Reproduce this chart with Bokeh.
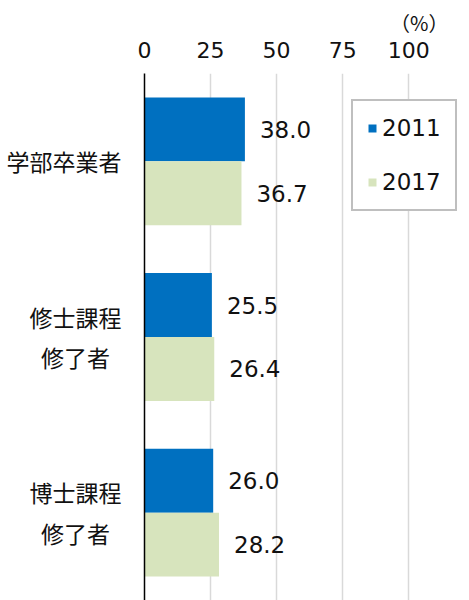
from bokeh.plotting import figure
from bokeh.models import (ColumnDataSource, FactorRange, Range1d, FixedTicker,
                          Legend, LegendItem)
from bokeh.transform import dodge
from bokeh.core.properties import value
from bokeh.embed import file_html
from bokeh.resources import INLINE

categories = ["学部卒業者", "修士課程\n修了者\u2002", "博士課程\n修了者\u2002"]
series_names = ["2011", "2017"]
values_2011 = [38.0, 25.5, 26.0]
values_2017 = [36.7, 26.4, 28.2]
x_ticks = [0, 25, 50, 75, 100]
unit_label = "（%）"

CJK = "Noto Sans CJK JP"
NUM = "DejaVu Sans"
BLUE = "#0070C0"
GREEN = "#D7E4BD"
TXT = "#111111"

src = ColumnDataSource(dict(
    cat=categories,
    v2011=values_2011,
    v2017=values_2017,
    t2011=[f"{v:.1f}" for v in values_2011],
    t2017=[f"{v:.1f}" for v in values_2017],
))

p = figure(width=469, height=600, output_backend="svg", toolbar_location=None,
           y_range=FactorRange(factors=list(reversed(categories))),
           x_range=Range1d(0, 123), x_axis_location="above",
           min_border_left=144, min_border_top=73, min_border_right=0,
           min_border_bottom=0)
p.outline_line_color = None
p.background_fill_color = "white"
p.border_fill_color = "white"

p.title.text = unit_label
p.title.align = "right"
p.title.offset = 21
p.title.standoff = 3
p.title.text_font = CJK
p.title.text_font_size = "20px"
p.title.text_font_style = "normal"
p.title.text_color = TXT

bh = 0.364
off = 0.182
r1 = p.hbar(y=dodge("cat", off, range=p.y_range), right="v2011", left=0,
            height=bh, source=src, fill_color=BLUE, line_color=None)
r2 = p.hbar(y=dodge("cat", -off, range=p.y_range), right="v2017", left=0,
            height=bh, source=src, fill_color=GREEN, line_color=None)

p.text(x="v2011", y=dodge("cat", off, range=p.y_range), text="t2011", source=src,
       x_offset=15, text_baseline="middle", text_align="left",
       text_font=value(NUM), text_font_size="23px", text_color=TXT)
p.text(x="v2017", y=dodge("cat", -off, range=p.y_range), text="t2017", source=src,
       x_offset=15, text_baseline="middle", text_align="left",
       text_font=value(NUM), text_font_size="23px", text_color=TXT)

# x axis (top)
xa = p.xaxis[0]
xa.ticker = FixedTicker(ticks=x_ticks)
xa.axis_line_color = None
xa.major_tick_line_color = None
xa.minor_tick_line_color = None
xa.major_label_text_font = NUM
xa.major_label_text_font_size = "22px"
xa.major_label_text_color = TXT
xa.major_label_standoff = 10

# y axis
ya = p.yaxis[0]
ya.axis_line_color = "black"
ya.axis_line_width = 1.5
ya.major_tick_line_color = None
ya.minor_tick_line_color = None
ya.major_label_text_font = CJK
ya.major_label_text_font_size = "23px"
ya.major_label_text_color = TXT
ya.major_label_standoff = 17

p.xgrid.ticker = FixedTicker(ticks=x_ticks[1:])
p.xgrid.grid_line_color = "#D9D9D9"
p.xgrid.grid_line_width = 1.5
p.ygrid.grid_line_color = None

legend = Legend(items=[LegendItem(label=series_names[0], renderers=[r1]),
                       LegendItem(label=series_names[1], renderers=[r2])],
                location=(207, 389), margin=0, padding=14, spacing=28,
                glyph_width=10, glyph_height=10, label_height=26,
                label_width=50, label_standoff=5, label_text_font=NUM,
                label_text_font_size="23px", label_text_color=TXT,
                border_line_color="#7F7F7F", border_line_width=2,
                background_fill_color="white", background_fill_alpha=1.0)
p.add_layout(legend, "center")

open("out.html", "w").write(file_html(p, INLINE))
